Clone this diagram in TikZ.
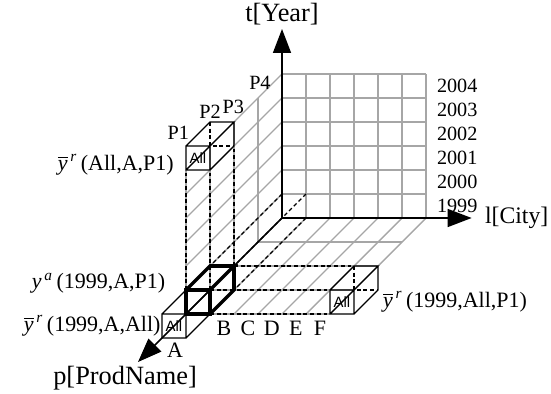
\documentclass[tikz,border=0pt]{standalone}
\usepackage{fontspec}
\usepackage{amsmath}
\setmainfont{Liberation Serif}
\newfontfamily\allfont{Liberation Sans}
\usetikzlibrary{arrows.meta}

\tikzset{
  gridline/.style={gray!70,line width=0.8pt},
  hidden/.style={line width=0.75pt,dash pattern=on 2.2pt off 1.6pt},
  boxline/.style={line width=0.75pt},
  boldline/.style={line width=2pt},
  axisline/.style={line width=0.9pt,-{Triangle[length=0.48cm,width=0.36cm]}},
  alltext/.style={font=\allfont\fontsize{8.5}{9}\selectfont,inner sep=0pt},
  biglabel/.style={font=\fontsize{15}{17}\selectfont},
  ticklabel/.style={font=\fontsize{11.5}{13}\selectfont},
  citylabel/.style={font=\fontsize{12.5}{14}\selectfont},
  celllabel/.style={font=\fontsize{12.5}{14}\selectfont,inner sep=0pt},
}

\begin{document}
\begin{tikzpicture}[x={(0.48cm,0cm)},y={(0cm,0.48cm)},z={(-0.48cm,-0.48cm)}]
  \useasboundingbox (-11.75,-7.333) rectangle (11.208,9.083);

  % grids: back wall, floor, side wall
  \foreach \i in {1,...,6} {
    \draw[gridline] (\i,0,0) -- (\i,6,0);
    \draw[gridline] (0,\i,0) -- (6,\i,0);
    \draw[gridline] (\i,0,0) -- (\i,0,4);
    \draw[gridline] (0,\i,0) -- (0,\i,4);
  }
  \foreach \k in {1,...,4} {
    \draw[gridline] (0,0,\k) -- (6,0,\k);
    \draw[gridline] (0,0,\k) -- (0,6,\k);
  }

  % dashed slices through the bold cell
  \draw[hidden] (0,1,4) -- (0,6,4) (1,1,4) -- (1,6,4) (1,1,3) -- (1,6,3);
  \draw[hidden] (1,1,3) -- (6,1,3) (1,1,4) -- (6,1,4) (1,0,4) -- (6,0,4);
  \draw[hidden] (0,1,0) -- (0,1,3) (1,1,0) -- (1,1,3) (1,0,0) -- (1,0,3);

  % All cell on top
  \draw[boxline] (0,6,4) -- (1,6,4) -- (1,7,4) -- (0,7,4) -- cycle
    (0,7,4) -- (0,7,3) -- (1,7,3) -- (1,7,4)
    (1,7,3) -- (1,6,3) -- (1,6,4)
    (0,6,3) -- (0,6,4);
  \draw[hidden] (0,7,3) -- (0,6,3) -- (1,6,3);

  % All cell on the right
  \draw[boxline] (6,0,4) -- (7,0,4) -- (7,1,4) -- (6,1,4) -- cycle
    (6,1,4) -- (6,1,3) -- (7,1,3) -- (7,1,4)
    (7,1,3) -- (7,0,3) -- (7,0,4)
    (6,0,3) -- (6,0,4);
  \draw[hidden] (6,1,3) -- (6,0,3) -- (7,0,3);

  % All cell in front
  \draw[boxline] (0,0,5) -- (1,0,5) -- (1,1,5) -- (0,1,5) -- cycle
    (0,1,5) -- (0,1,4) (1,1,5) -- (1,1,4) (1,0,5) -- (1,0,4);

  % bold cell (1999,A,P1)
  \draw[boldline] (0,0,4) -- (1,0,4) -- (1,1,4) -- (0,1,4) -- cycle
    (0,1,4) -- (0,1,3) -- (1,1,3) -- (1,1,4)
    (1,1,3) -- (1,0,3) -- (1,0,4);

  \node[alltext] (allTop) at (0.5,6.5,4) {All};
  \node[alltext] (allRight) at (6.5,0.5,4) {All};
  \node[alltext] (allFront) at (0.5,0.5,5) {All};

  % axes
  \coordinate (O) at (0,0,0);
  \coordinate (tTip) at (0,7.875,0);
  \coordinate (lTip) at (7.9,0,0);
  \coordinate (pTip) at (0,0,6);
  \draw[axisline] (O) -- (tTip);
  \draw[axisline] (O) -- (lTip);
  \draw[axisline] (O) -- (pTip);

  \node[biglabel] (tLabel) at (0,8.5) {t[Year]};
  \node[biglabel,anchor=west,font=\fontsize{13.5}{15}\selectfont] (lLabel) at (8.2,0) {l[City]};
  \node[biglabel] (pLabel) at (-6.54,-6.67) {p[ProdName]};

  \foreach \j [evaluate=\j as \yr using int(1999+\j)] in {0,...,5}
    \node[ticklabel,anchor=west] (year\j) at (6.2,\j+0.5) {\yr};

  \node[ticklabel] (pOne) at (-4.32,3.53) {P1};
  \node[ticklabel] (pTwo) at (-3.0,4.43) {P2};
  \node[ticklabel] (pThree) at (-2.03,4.64) {P3};
  \node[ticklabel] (pFour) at (-0.92,5.63) {P4};

  \node[citylabel] (cityA) at (-4.46,-5.5) {A};
  \foreach \c [count=\i] in {B,C,D,E,F}
    \node[citylabel] (city\c) at ({\i-3.42},-4.58) {\c};

  \node[celllabel,anchor=east] (yTop) at (-4.5,2.22)
    {$\overline{\textit{y}}^{\,\textit{r}}$\,(All,A,P1)};
  \node[celllabel,anchor=east] (yBold) at (-4.85,-2.71)
    {$\textit{y}^{\,\textit{a}}$\,(1999,A,P1)};
  \node[celllabel,anchor=east] (yFront) at (-5.05,-4.5)
    {$\overline{\textit{y}}^{\,\textit{r}}$\,(1999,A,All)};
  \node[celllabel,anchor=west] (yRight) at (4.2,-3.5)
    {$\overline{\textit{y}}^{\,\textit{r}}$\,(1999,All,P1)};
\end{tikzpicture}
\end{document}
